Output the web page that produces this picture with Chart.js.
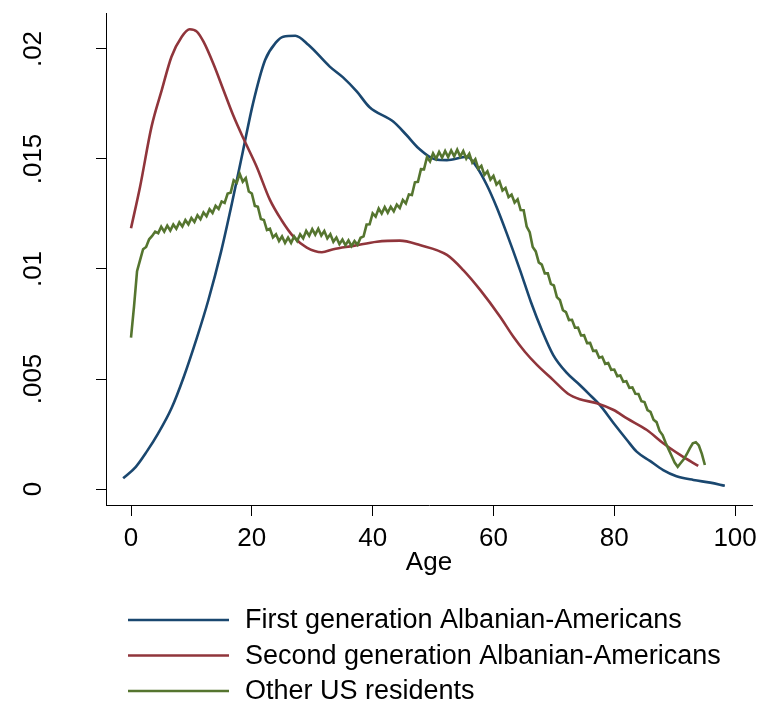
<!DOCTYPE html>
<html>
<head>
<meta charset="utf-8">
<title>Age density</title>
<script src="https://cdn.jsdelivr.net/npm/chart.js@4.4.0/dist/chart.umd.min.js"></script>
<style>
  html, body { margin: 0; padding: 0; background: #fff; }
  #wrap { width: 761px; height: 707px; }
</style>
</head>
<body>
<div id="wrap"><canvas id="density" width="761" height="707"></canvas></div>
<script>
// kernel density of age, three groups
const seriesNames = [
  'First generation Albanian-Americans',
  'Second generation Albanian-Americans',
  'Other US residents',
];
const seriesColors = ['#1a476f', '#90353b', '#55752f'];

const firstGenAge = [
  -1.3, 0.8, 2.6, 4.5, 6.7, 8.7, 10.9, 12.8, 14.9, 16.7, 18.5, 20.2, 22.2, 24.0, 25.2, 27.2, 29.4,
  32.9, 35.1, 37.4, 39.5, 43.4, 45.6, 47.6, 50.3, 52.3, 55.6, 57.2, 58.9, 60.5, 62.2, 64.4,
  66.2, 68.0, 69.9, 72.1, 74.3, 76.0, 77.6, 79.9, 82.1, 83.7, 85.9, 88.1, 90.3, 93.1, 95.9, 98.3,
];
const firstGenDensity = [
  .00049, .00101, .00170, .00253, .00367, .00507, .00687, .00858, .01078, .01298, .01532, .01753, .01950, .02030, .02056, .02060, .02018,
  .01920, .01871, .01806, .01735, .01670, .01609, .01549, .01499, .01495, .01510, .01465, .01382, .01283, .01162, .00995,
  .00850, .00723, .00609, .00529, .00473, .00427, .00382, .00299, .00223, .00170, .00128, .00086, .00058, .00041, .00029, .00015,
];

const secondGenAge = [
  0, 1.5, 3.4, 5.1, 6.7, 8.4, 9.7, 10.9, 12.0, 13.6, 15.3, 16.9, 18.6, 20.8, 23.0, 24.9, 26.9, 29.1, 31.6, 33.5,
  36.8, 40.7, 44.5, 47.8, 52.3, 55.0, 57.8, 61.1, 63.3, 65.2, 67.2, 69.9, 72.4, 74.3, 77.1, 79.9, 82.1, 85.4, 88.1, 90.9, 93.9,
];
const secondGenDensity = [
  .01185, .01374, .01647, .01814, .01965, .02056, .02090, .02079, .02033, .01935, .01814, .01700, .01594, .01465, .01314, .01223, .01147, .01097, .01076, .01090,
  .01105, .01124, .01129, .01109, .01064, .00995, .00905, .00783, .00692, .00624, .00564, .00495, .00432, .00408, .00390, .00359, .00321, .00268, .00208, .00155, .00105,
];

const otherAge = [
  0, 0.5, 1, 1.5, 2, 2.5, 3, 3.5, 4, 4.5, 5, 5.5, 6, 6.5, 7, 7.5, 8, 8.5, 9, 9.5,
  10, 10.5, 11, 11.5, 12, 12.5, 13, 13.5, 14, 14.5, 15, 15.5, 16, 16.5, 17, 17.5, 18, 18.5, 19, 19.5,
  20, 20.5, 21, 21.5, 22, 22.5, 23, 23.5, 24, 24.5, 25, 25.5, 26, 26.5, 27, 27.5, 28, 28.5, 29, 29.5,
  30, 30.5, 31, 31.5, 32, 32.5, 33, 33.5, 34, 34.5, 35, 35.5, 36, 36.5, 37, 37.5, 38, 38.5, 39, 39.5,
  40, 40.5, 41, 41.5, 42, 42.5, 43, 43.5, 44, 44.5, 45, 45.5, 46, 46.5, 47, 47.5, 48, 48.5, 49, 49.5,
  50, 50.5, 51, 51.5, 52, 52.5, 53, 53.5, 54, 54.5, 55, 55.5, 56, 56.5, 57, 57.5, 58, 58.5, 59, 59.5,
  60, 60.5, 61, 61.5, 62, 62.5, 63, 63.5, 64, 64.5, 65, 65.5, 66, 66.5, 67, 67.5, 68, 68.5, 69, 69.5,
  70, 70.5, 71, 71.5, 72, 72.5, 73, 73.5, 74, 74.5, 75, 75.5, 76, 76.5, 77, 77.5, 78, 78.5, 79, 79.5,
  80, 80.5, 81, 81.5, 82, 82.5, 83, 83.5, 84, 84.5, 85, 85.5, 86, 86.5, 87, 87.5, 88, 88.5, 89, 89.5,
  90, 90.5, 91, 91.5, 92, 92.5, 93, 93.5, 94, 94.5, 95,
];
const otherDensity = [
  .00688, .00830, .00990, .01040, .01090, .01100, .01135, .01150, .01170, .01163, .01192, .01170, .01197, .01175, .01202, .01183, .01212, .01193, .01222, .01203,
  .01232, .01214, .01244, .01226, .01257, .01240, .01272, .01255, .01287, .01273, .01307, .01300, .01343, .01347, .01403, .01392, .01433, .01397, .01413, .01352,
  .01343, .01287, .01283, .01227, .01223, .01177, .01183, .01144, .01158, .01127, .01148, .01119, .01143, .01119, .01148, .01127, .01158, .01139, .01173, .01151,
  .01181, .01156, .01183, .01152, .01173, .01139, .01158, .01124, .01143, .01113, .01134, .01108, .01130, .01104, .01127, .01110, .01142, .01148, .01202, .01203,
  .01253, .01238, .01275, .01252, .01281, .01256, .01283, .01262, .01293, .01277, .01314, .01298, .01339, .01336, .01394, .01396, .01454, .01453, .01509, .01489,
  .01526, .01501, .01532, .01506, .01536, .01509, .01539, .01512, .01542, .01511, .01536, .01502, .01524, .01483, .01499, .01456, .01469, .01428, .01444, .01406,
  .01423, .01384, .01398, .01357, .01368, .01327, .01338, .01302, .01317, .01268, .01267, .01193, .01167, .01100, .01080, .01030, .01020, .00980, .00980, .00932,
  .00925, .00872, .00859, .00813, .00804, .00768, .00769, .00733, .00734, .00698, .00699, .00663, .00664, .00628, .00629, .00597, .00601, .00569, .00573, .00542,
  .00543, .00513, .00516, .00487, .00490, .00460, .00462, .00433, .00432, .00399, .00395, .00359, .00351, .00315, .00304, .00264, .00245, .00210, .00180, .00150,
  .00120, .00101, .00118, .00135, .00158, .00185, .00208, .00213, .00198, .00160, .00109,
];

const xTicks = [0, 20, 40, 60, 80, 100];
const yTicks = [0, 0.005, 0.01, 0.015, 0.02];
const yTickLabels = ['0', '.005', '.01', '.015', '.02'];

const toPoints = (xs, ys) => xs.map((x, i) => ({ x, y: ys[i] }));

const FONT = '"Liberation Sans", Arial, Helvetica, sans-serif';
Chart.defaults.font.family = FONT;
Chart.defaults.font.size = 26;
Chart.defaults.color = '#000';

// stacked legend under the plot: sample line + label per row
const legendRows = {
  id: 'legendRows',
  afterDraw(chart) {
    const ctx = chart.ctx;
    ctx.save();
    ctx.font = `27px ${FONT}`;
    ctx.textBaseline = 'middle';
    chart.data.datasets.forEach((ds, i) => {
      const y = 620 + i * 35.5;
      ctx.strokeStyle = ds.borderColor;
      ctx.lineWidth = 2.6;
      ctx.beginPath();
      ctx.moveTo(128, y);
      ctx.lineTo(229, y);
      ctx.stroke();
      ctx.fillStyle = '#000';
      ctx.fillText(ds.label, 245, y + 1);
    });
    ctx.restore();
  },
};

const lineSet = (i, xs, ys, smooth, order) => ({
  label: seriesNames[i],
  data: toPoints(xs, ys),
  borderColor: seriesColors[i],
  backgroundColor: seriesColors[i],
  borderWidth: 2.6,
  pointRadius: 0,
  cubicInterpolationMode: smooth ? 'monotone' : 'default',
  tension: 0,
  order,
});

const axisGrid = (len) => ({
  display: true,
  drawOnChartArea: false,
  drawTicks: true,
  tickLength: len,
  color: '#000',
  lineWidth: 1,
});

new Chart(document.getElementById('density'), {
  type: 'line',
  data: {
    datasets: [
      lineSet(0, firstGenAge, firstGenDensity, true, 2),
      lineSet(1, secondGenAge, secondGenDensity, true, 1),
      lineSet(2, otherAge, otherDensity, false, 0),
    ],
  },
  options: {
    responsive: false,
    animation: false,
    devicePixelRatio: 1,
    layout: { padding: { left: 0, right: 9, top: 13, bottom: 122 } },
    plugins: { legend: { display: false }, tooltip: { enabled: false } },
    scales: {
      x: {
        type: 'linear',
        min: -4.14,
        max: 102.8,
        afterBuildTicks: (s) => { s.ticks = xTicks.map((v) => ({ value: v })); },
        afterFit: (s) => { s.height = 80; s.paddingLeft = 0; s.paddingRight = 0; },
        border: { display: true, color: '#000', width: 1 },
        grid: axisGrid(11),
        ticks: { autoSkip: false, maxRotation: 0, padding: 7, color: '#000', callback: (v) => String(v) },
        title: { display: true, text: 'Age', color: '#000', padding: { top: 0, bottom: 7 } },
      },
      y: {
        type: 'linear',
        min: -0.000727,
        max: 0.021636,
        afterBuildTicks: (s) => { s.ticks = yTicks.map((v) => ({ value: v })); },
        afterFit: (s) => { s.width = 106; s.paddingTop = 0; s.paddingBottom = 0; },
        border: { display: true, color: '#000', width: 1 },
        grid: axisGrid(10),
        ticks: {
          autoSkip: false,
          minRotation: 90,
          maxRotation: 90,
          crossAlign: 'center',
          padding: 37,
          color: '#000',
          callback: (v, i) => yTickLabels[i],
        },
      },
    },
  },
  plugins: [legendRows],
});
</script>
</body>
</html>
